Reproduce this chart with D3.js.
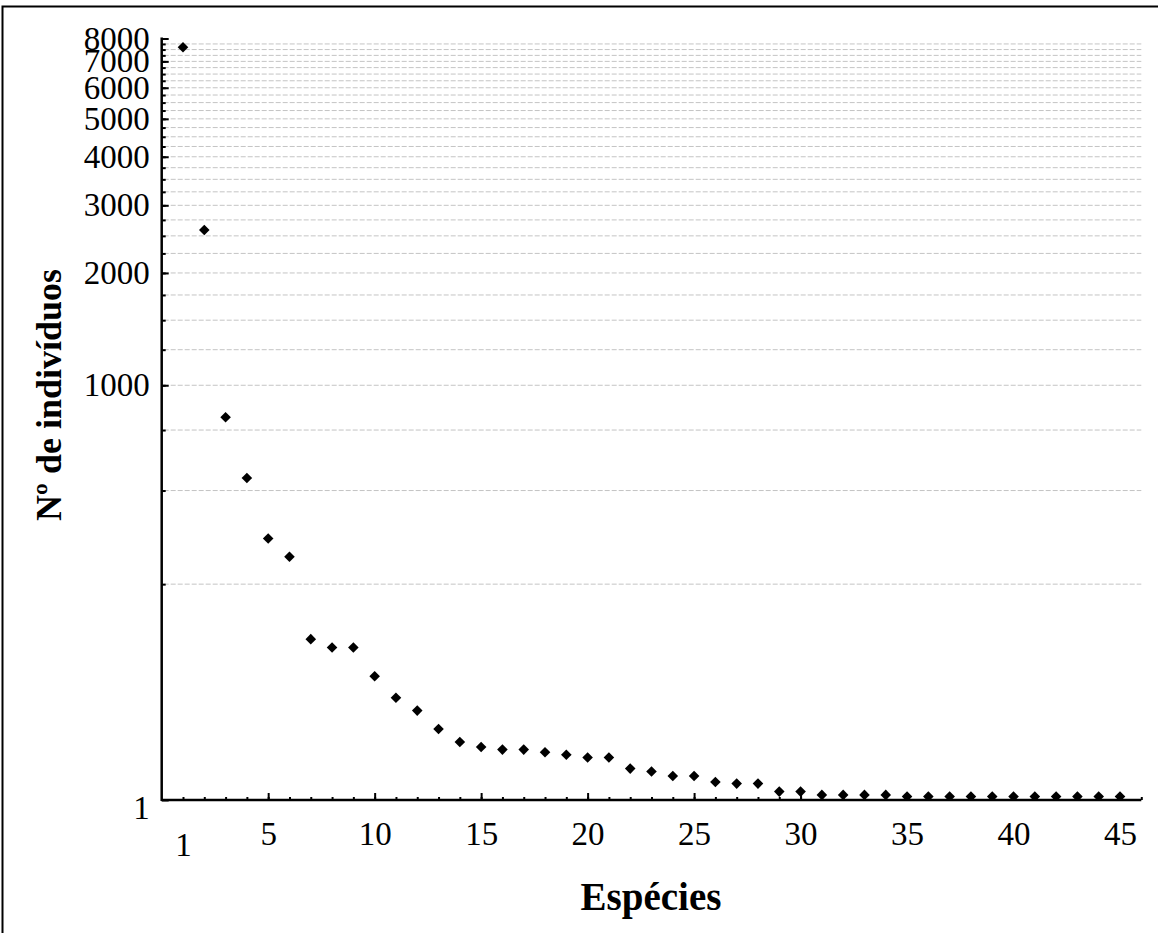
<!DOCTYPE html>
<html>
<head>
<meta charset="utf-8">
<script src="https://cdn.jsdelivr.net/npm/d3@7"></script>
<style>
  body { margin: 0; background: #fff; }
  svg { display: block; }
  svg text { font-family: 'Liberation Serif', 'Times New Roman', serif; }
</style>
</head>
<body>
<script>
// rank-abundance: individuals per species (rank 1..45)
const individuals = [
  7600, 2590, 815, 545, 355, 310, 155, 143, 143, 106,
  82, 69, 52, 41, 37, 35, 35, 33, 31, 29,
  29, 21, 19, 16, 16, 12, 11, 11, 6, 6,
  4, 4, 4, 4, 3, 3, 3, 3, 3, 3,
  3, 3, 3, 3, 3
];
const yLabelTicks = [1, 1000, 2000, 3000, 4000, 5000, 6000, 7000, 8000];
const yMinorTicks = d3.range(250, 8001, 250);
const xLabelTicks = [1, 5, 10, 15, 20, 25, 30, 35, 40, 45];
const xMajorTicks = [5, 10, 15, 20, 25, 30, 35, 40, 45];
const xMinorTicks = d3.range(1, 47);

const width = 1158;
const height = 933;
const margin = { top: 38.5, right: 16.7, bottom: 133, left: 161.7 };

const svg = d3.select('body')
  .append('svg')
  .attr('width', width)
  .attr('height', height);

// outer frame (only left/top edges fall inside the picture)
svg.append('rect')
  .attr('x', 2.5)
  .attr('y', 6.5)
  .attr('width', 1200)
  .attr('height', 1000)
  .attr('fill', 'none')
  .attr('stroke', '#000')
  .attr('stroke-width', 2);

const x = d3.scaleLinear()
  .domain([0, 46])
  .range([margin.left, width - margin.right]);

const y = d3.scaleSymlog()
  .constant(100)
  .domain([1, 8000])
  .range([height - margin.bottom, margin.top]);

const y0 = y(1);

// dashed gridlines
svg.append('g')
  .selectAll('line')
  .data(yMinorTicks.filter((d) => d < 8000))
  .enter()
  .append('line')
  .attr('x1', x(0) + 2)
  .attr('x2', x(46))
  .attr('y1', (d) => y(d))
  .attr('y2', (d) => y(d))
  .attr('stroke', '#c4c4c4')
  .attr('stroke-width', 1)
  .attr('stroke-dasharray', '5,2');

// points
svg.append('defs').append('clipPath')
  .attr('id', 'plot-clip')
  .append('rect')
  .attr('x', x(0))
  .attr('y', 0)
  .attr('width', x(46) - x(0))
  .attr('height', y0);

const diamond = d3.symbol(d3.symbolSquare, 56);

svg.append('g')
  .attr('clip-path', 'url(#plot-clip)')
  .selectAll('path')
  .data(individuals)
  .enter()
  .append('path')
  .attr('d', diamond)
  .attr('fill', '#000')
  .attr('transform', (d, i) => 'translate(' + x(i + 1) + ',' + y(d) + ') rotate(45)');

// y axis
const yMinor = svg.append('g')
  .attr('transform', 'translate(' + x(0) + ',0)')
  .call(d3.axisLeft(y).tickValues(yMinorTicks).tickSize(-4).tickFormat(''));

const yMajor = svg.append('g')
  .attr('transform', 'translate(' + x(0) + ',0)')
  .call(d3.axisLeft(y).tickValues(yLabelTicks).tickSize(-7).tickPadding(12).tickFormat(d3.format('d')));

yMajor.selectAll('text')
  .attr('dy', (d) => d === 1 ? '0.55em' : '0.32em');

// x axis
const xMinor = svg.append('g')
  .attr('transform', 'translate(0,' + y0 + ')')
  .call(d3.axisBottom(x).tickValues(xMinorTicks).tickSize(-3).tickFormat(''));

const xMajor = svg.append('g')
  .attr('transform', 'translate(0,' + y0 + ')')
  .call(d3.axisBottom(x).tickValues(xMajorTicks).tickSize(-7).tickFormat(''));

const xLabels = svg.append('g')
  .attr('transform', 'translate(0,' + y0 + ')')
  .call(d3.axisBottom(x).tickValues(xLabelTicks).tickSize(0).tickPadding(22).tickFormat(d3.format('d')));

xLabels.selectAll('text')
  .attr('dy', (d) => d === 1 ? '1.02em' : '0.71em');

[yMinor, yMajor, xMinor, xMajor, xLabels].forEach((g) => {
  g.attr('font-family', null).attr('font-size', null);
  g.select('.domain').remove();
  g.selectAll('line').attr('stroke', '#000').attr('stroke-width', 2);
  g.selectAll('text')
    .attr('fill', '#000')
    .style('font-size', '33px');
});

// axis lines
svg.append('line')
  .attr('x1', x(0))
  .attr('x2', x(0))
  .attr('y1', y(8000) - 1)
  .attr('y2', y0 + 1)
  .attr('stroke', '#000')
  .attr('stroke-width', 2.5);

svg.append('line')
  .attr('x1', x(0))
  .attr('x2', x(46))
  .attr('y1', y0)
  .attr('y2', y0)
  .attr('stroke', '#000')
  .attr('stroke-width', 2.5);

// titles
svg.append('text')
  .attr('transform', 'translate(61,395) rotate(-90)')
  .attr('text-anchor', 'middle')
  .style('font-size', '36px')
  .style('font-weight', 'bold')
  .text('Nº de indivíduos');

svg.append('text')
  .attr('x', 651)
  .attr('y', 910)
  .attr('text-anchor', 'middle')
  .style('font-size', '39px')
  .style('font-weight', 'bold')
  .text('Espécies');
</script>
</body>
</html>
